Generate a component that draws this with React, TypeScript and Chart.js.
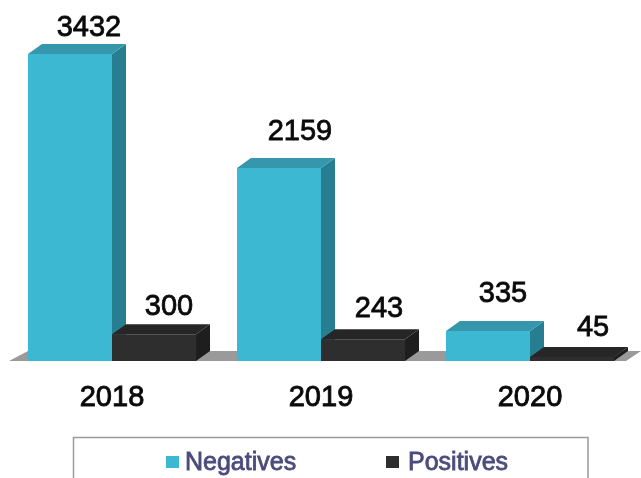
import React, { useEffect, useRef } from "react";
import { Chart, registerables } from "chart.js";

Chart.register(...registerables);

const categories = ["2018", "2019", "2020"];
const seriesNames = ["Negatives", "Positives"];
const negatives = [3432, 2159, 335];
const positives = [300, 243, 45];

const FONT = '"Liberation Sans", Arial, sans-serif';
const faces = [
  { front: "#3db8d3", top: "#3596ac", side: "#287e91" },
  { front: "#2e2e2e", top: "#262626", side: "#1e1e1e" },
];
const DX = 14;
const DY = 10;
// label nudges relative to the top centre of each bar [series][category]
const labelDx = [
  [19, 21, 15],
  [15, 16, 21],
];
const labelDy = [
  [-26, -36, -37],
  [-27, -30, -29],
];

const poly = (ctx: CanvasRenderingContext2D, pts: number[][], fill: string) => {
  ctx.beginPath();
  pts.forEach(([x, y], i) => (i ? ctx.lineTo(x, y) : ctx.moveTo(x, y)));
  ctx.closePath();
  ctx.fillStyle = fill;
  ctx.fill();
};

const depthPlugin = {
  id: "depth",
  beforeDatasetsDraw(chart: any) {
    const { ctx, scales } = chart;
    const base = scales.y.getPixelForValue(0);
    const l = 9;
    const r = 626;
    poly(ctx, [[l, base], [r, base], [r + 15, base - DY], [l + 19, base - DY]], "#9a9a9a");
    ctx.save();
    chart.data.datasets.forEach((_: any, di: number) => {
      chart.getDatasetMeta(di).data.forEach((b: any) => {
        const x0 = b.x - b.width / 2;
        const x1 = b.x + b.width / 2;
        const c = faces[di];
        poly(ctx, [[x1, b.y], [x1 + DX, b.y - DY], [x1 + DX, base - DY], [x1, base]], c.side);
        poly(ctx, [[x0, b.y], [x0 + DX, b.y - DY], [x1 + DX, b.y - DY], [x1, b.y]], c.top);
      });
    });
    ctx.restore();
  },
  afterDatasetsDraw(chart: any) {
    const { ctx } = chart;
    ctx.save();
    ctx.font = `29px ${FONT}`;
    ctx.textAlign = "center";
    ctx.textBaseline = "middle";
    ctx.fillStyle = "#0a0a0a";
    ctx.strokeStyle = "#0a0a0a";
    ctx.lineWidth = 0.8;
    chart.data.datasets.forEach((ds: any, di: number) => {
      chart.getDatasetMeta(di).data.forEach((b: any, i: number) => {
        const x = b.x + labelDx[di][i];
        const y = b.y + labelDy[di][i];
        ctx.fillText(String(ds.data[i]), x, y);
        ctx.strokeText(String(ds.data[i]), x, y);
      });
    });
    ctx.restore();
  },
  afterDraw(chart: any) {
    const { ctx } = chart;
    ctx.save();
    ctx.strokeStyle = "#9b9b9b";
    ctx.lineWidth = 1.5;
    ctx.beginPath();
    ctx.moveTo(73.5, 478);
    ctx.lineTo(73.5, 437.5);
    ctx.lineTo(588, 437.5);
    ctx.lineTo(588, 478);
    ctx.stroke();
    const swatchX = [166, 386];
    const textX = [185, 408];
    ctx.font = `25px ${FONT}`;
    ctx.textBaseline = "middle";
    ctx.textAlign = "left";
    chart.data.datasets.forEach((ds: any, i: number) => {
      ctx.fillStyle = faces[i].front;
      ctx.fillRect(swatchX[i], 456, 13, 12);
      ctx.fillStyle = "#4c4c7c";
      ctx.strokeStyle = "#4c4c7c";
      ctx.lineWidth = 0.8;
      ctx.fillText(ds.label, textX[i], 463);
      ctx.strokeText(ds.label, textX[i], 463);
    });
    ctx.restore();
  },
};

export default function App() {
  const ref = useRef<HTMLCanvasElement>(null);
  useEffect(() => {
    const chart = new Chart(ref.current!, {
      type: "bar",
      data: {
        labels: categories,
        datasets: [
          { label: seriesNames[0], data: negatives, backgroundColor: faces[0].front, borderWidth: 0 },
          { label: seriesNames[1], data: positives, backgroundColor: faces[1].front, borderWidth: 0 },
        ],
      },
      options: {
        animation: false,
        responsive: false,
        layout: { padding: { left: 7.5, right: 6.5, top: 0, bottom: 0 } },
        datasets: { bar: { barPercentage: 1, categoryPercentage: 0.804 } },
        plugins: {
          legend: { display: false },
          tooltip: { enabled: false },
          title: { display: false },
        },
        scales: {
          x: {
            grid: { display: false },
            border: { display: false },
            afterFit: (s: any) => {
              s.height = 117;
            },
            ticks: {
              color: "#0a0a0a",
              padding: 12,
              textStrokeColor: "#0a0a0a",
              textStrokeWidth: 0.9,
              font: { family: FONT, size: 29 },
            },
          },
          y: { display: false, min: 0, max: 4036 },
        },
      },
      plugins: [depthPlugin],
    } as any);
    return () => chart.destroy();
  }, []);
  return (
    <div style={{ position: "fixed", left: 0, top: 0, width: 641, height: 478, background: "#fff" }}>
      <canvas ref={ref} width={641} height={478} style={{ display: "block" }} />
    </div>
  );
}
